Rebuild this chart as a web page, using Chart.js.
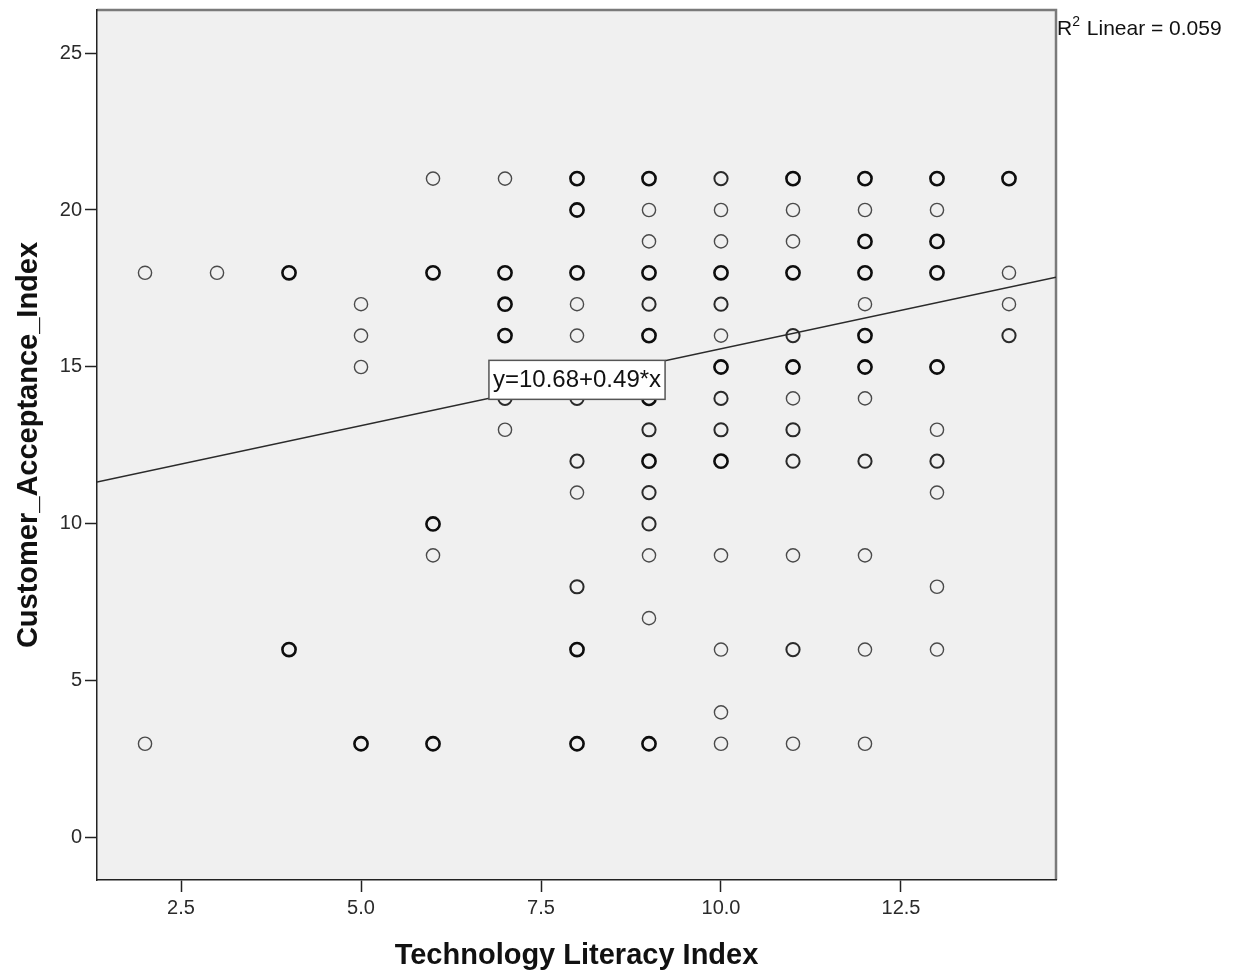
<!DOCTYPE html>
<html>
<head>
<meta charset="utf-8">
<script src="https://cdn.jsdelivr.net/npm/chart.js@4/dist/chart.umd.min.js"></script>
<style>
  html, body { margin: 0; padding: 0; background: #ffffff; }
  #wrap { width: 1237px; height: 973px; position: relative; }
</style>
</head>
<body>
<div id="wrap"><canvas id="c" width="1237" height="973"></canvas></div>
<script>
// Technology Literacy Index (x) vs Customer_Acceptance_Index (y)
// overlapCount = how many cases share the same (x, y) pair
const techLiteracy = [
  2, 2,
  3,
  4, 4,
  5, 5, 5, 5,
  6, 6, 6, 6, 6,
  7, 7, 7, 7, 7, 7,
  8, 8, 8, 8, 8, 8, 8, 8, 8, 8, 8,
  9, 9, 9, 9, 9, 9, 9, 9, 9, 9, 9, 9, 9, 9,
  10, 10, 10, 10, 10, 10, 10, 10, 10, 10, 10, 10, 10, 10,
  11, 11, 11, 11, 11, 11, 11, 11, 11, 11, 11, 11,
  12, 12, 12, 12, 12, 12, 12, 12, 12, 12, 12, 12,
  13, 13, 13, 13, 13, 13, 13, 13, 13, 13,
  14, 14, 14, 14
];
const customerAcceptance = [
  18, 3,
  18,
  18, 6,
  17, 16, 15, 3,
  21, 18, 10, 9, 3,
  21, 18, 17, 16, 14, 13,
  21, 20, 18, 17, 16, 14, 12, 11, 8, 6, 3,
  21, 20, 19, 18, 17, 16, 14, 13, 12, 11, 10, 9, 7, 3,
  21, 20, 19, 18, 17, 16, 15, 14, 13, 12, 9, 6, 4, 3,
  21, 20, 19, 18, 16, 15, 14, 13, 12, 9, 6, 3,
  21, 20, 19, 18, 17, 16, 15, 14, 12, 9, 6, 3,
  21, 20, 19, 18, 15, 13, 12, 11, 8, 6,
  21, 18, 17, 16
];
const overlapCount = [
  1, 1,
  1,
  3, 3,
  1, 1, 1, 3,
  1, 3, 3, 1, 3,
  1, 3, 3, 3, 2, 1,
  3, 3, 3, 1, 1, 2, 2, 1, 2, 3, 3,
  3, 1, 1, 3, 2, 3, 3, 2, 3, 2, 2, 1, 1, 3,
  2, 1, 1, 3, 2, 1, 3, 2, 2, 3, 1, 1, 1, 1,
  3, 1, 1, 3, 2, 3, 1, 2, 2, 1, 2, 1,
  3, 1, 3, 3, 1, 3, 3, 1, 2, 1, 1, 1,
  3, 1, 3, 3, 3, 1, 2, 1, 1, 1,
  3, 1, 1, 2
];

// Fit line reported by the model
const fitIntercept = 10.68;
const fitSlope = 0.49;
const rSquared = 0.059;

const xRange = [1.333, 14.653];
const yRange = [-1.34, 26.37];
const xTickValues = [2.5, 5.0, 7.5, 10.0, 12.5];
const yTickValues = [0, 5, 10, 15, 20, 25];

const scatterPoints = techLiteracy.map((x, i) => ({ x: x, y: customerAcceptance[i] }));
const fitPoints = xRange.map(x => ({ x: x, y: fitIntercept + fitSlope * x }));

const FONT = '"Liberation Sans", Arial, sans-serif';

function fixedTicks(values) {
  return function (scale) {
    scale.ticks = values.map(v => ({ value: v }));
  };
}

const plotFrame = {
  id: 'plotFrame',
  beforeDraw(chart) {
    const { ctx, chartArea: a } = chart;
    ctx.save();
    ctx.fillStyle = '#f0f0f0';
    ctx.fillRect(a.left, a.top, a.right - a.left, a.bottom - a.top);
    ctx.strokeStyle = '#7a7a7a';
    ctx.lineWidth = 2.5;
    ctx.beginPath();
    ctx.moveTo(a.left, a.top);
    ctx.lineTo(a.right, a.top);
    ctx.lineTo(a.right, a.bottom);
    ctx.stroke();
    ctx.restore();
  }
};

const annotations = {
  id: 'annotations',
  afterDatasetsDraw(chart) {
    const { ctx, chartArea: a, scales } = chart;
    ctx.save();
    // equation box
    const label = 'y=' + fitIntercept.toFixed(2) + '+' + fitSlope.toFixed(2) + '*x';
    ctx.font = '24px ' + FONT;
    const w = ctx.measureText(label).width + 8;
    const h = 39;
    const cx = scales.x.getPixelForValue(8);
    const cy = scales.y.getPixelForValue(14.59);
    ctx.fillStyle = '#ffffff';
    ctx.fillRect(cx - w / 2, cy - h / 2, w, h);
    ctx.strokeStyle = '#555555';
    ctx.lineWidth = 1.5;
    ctx.strokeRect(cx - w / 2, cy - h / 2, w, h);
    ctx.fillStyle = '#111111';
    ctx.textAlign = 'center';
    ctx.textBaseline = 'middle';
    ctx.fillText(label, cx, cy + 1);

    // R squared note
    ctx.textAlign = 'left';
    ctx.textBaseline = 'alphabetic';
    let tx = a.right + 1;
    const ty = 35;
    ctx.font = '21px ' + FONT;
    ctx.fillText('R', tx, ty);
    tx += ctx.measureText('R').width;
    ctx.font = '14px ' + FONT;
    ctx.fillText('2', tx, ty - 9);
    tx += ctx.measureText('2').width + 1;
    ctx.font = '21px ' + FONT;
    ctx.fillText(' Linear = ' + rSquared.toFixed(3), tx, ty);
    ctx.restore();
  }
};

new Chart(document.getElementById('c'), {
  data: {
    datasets: [
      {
        type: 'line',
        data: fitPoints,
        borderColor: '#2a2a2a',
        borderWidth: 1.5,
        pointRadius: 0,
        fill: false,
        order: 1
      },
      {
        type: 'scatter',
        data: scatterPoints,
        backgroundColor: 'rgba(0,0,0,0)',
        borderColor: ctx => ['#4a4a4a', '#2a2a2a', '#0d0d0d'][(overlapCount[ctx.dataIndex] || 1) - 1],
        borderWidth: ctx => [1.4, 2.0, 2.6][(overlapCount[ctx.dataIndex] || 1) - 1],
        pointRadius: 6.6,
        order: 2
      }
    ]
  },
  options: {
    responsive: false,
    animation: false,
    events: [],
    layout: { padding: { left: 0, top: 10, right: 181, bottom: 0 } },
    plugins: { legend: { display: false }, tooltip: { enabled: false } },
    scales: {
      x: {
        type: 'linear',
        min: xRange[0],
        max: xRange[1],
        afterBuildTicks: fixedTicks(xTickValues),
        afterFit(scale) { scale.height = 93; scale.paddingLeft = 0; scale.paddingRight = 0; },
        border: { display: true, color: '#222222', width: 1.5 },
        grid: { drawOnChartArea: false, drawTicks: true, tickLength: 12, tickColor: '#222222', tickWidth: 1.5 },
        ticks: {
          autoSkip: false,
          maxRotation: 0,
          padding: 4,
          color: '#2a2a2a',
          font: { family: FONT, size: 20 },
          callback: v => Number(v).toFixed(1)
        },
        title: {
          display: true,
          text: 'Technology Literacy Index',
          color: '#111111',
          font: { family: FONT, size: 29, weight: 'bold' },
          padding: { top: 0, bottom: 0 }
        }
      },
      y: {
        type: 'linear',
        min: yRange[0],
        max: yRange[1],
        afterBuildTicks: fixedTicks(yTickValues),
        afterFit(scale) { scale.width = 97; scale.paddingTop = 0; scale.paddingBottom = 0; },
        border: { display: true, color: '#222222', width: 1.5 },
        grid: { drawOnChartArea: false, drawTicks: true, tickLength: 12, tickColor: '#222222', tickWidth: 1.5 },
        ticks: {
          autoSkip: false,
          padding: 3,
          color: '#2a2a2a',
          font: { family: FONT, size: 20 },
          callback: v => String(Math.round(v))
        },
        title: {
          display: true,
          text: 'Customer_Acceptance_Index',
          color: '#111111',
          font: { family: FONT, size: 29, weight: 'bold' },
          padding: { top: 12, bottom: 0 }
        }
      }
    }
  },
  plugins: [plotFrame, annotations]
});
</script>
</body>
</html>
